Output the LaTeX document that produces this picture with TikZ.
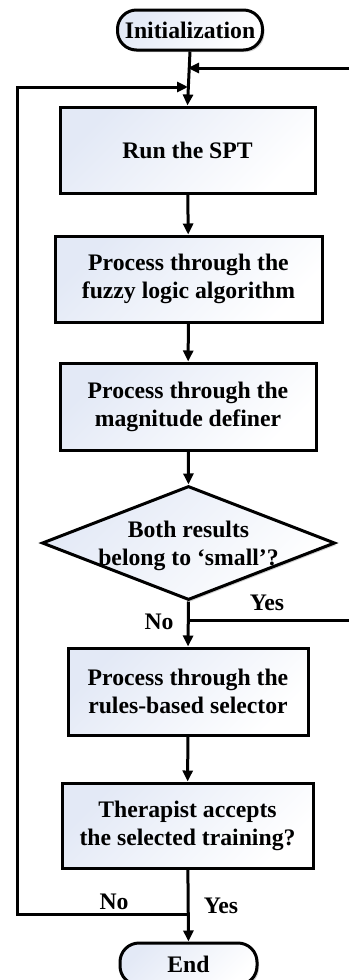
\documentclass[tikz,border=0pt]{standalone}
\usepackage{fontspec}
\setmainfont{Liberation Serif}
\usetikzlibrary{shapes.geometric,arrows.meta,shadows}
\definecolor{lb}{HTML}{E3E9F6}
\begin{document}
\begin{tikzpicture}[x=1pt,y=-1pt,
  every node/.style={font=\bfseries\fontsize{23.7}{28}\selectfont},
  fillbox/.style={draw=black, line width=3pt, top color=lb, bottom color=white, shading angle=45,
     drop shadow={shadow xshift=2pt, shadow yshift=-2pt, fill=black, opacity=0.18}},
  procbox/.style={fillbox, rectangle, align=center, inner sep=0pt},
  termbox/.style={fillbox, rectangle, rounded corners=19pt, inner sep=0pt},
  conn/.style={line width=3pt},
  arr/.style={conn, -{Triangle[length=11pt,width=10pt]}},
  lab/.style={inner sep=0pt}]
\useasboundingbox (0,0) rectangle (349,980);

\node[termbox, minimum width=145pt, minimum height=40pt] (init) at (190,30) {Initialization};
\node[procbox, minimum width=255pt, minimum height=86pt] (b1) at (187.5,150) {Run the SPT};
\node[procbox, minimum width=267pt, minimum height=86pt] (b2) at (188.5,279) {Process through the\\fuzzy logic algorithm};
\node[procbox, minimum width=256pt, minimum height=87pt] (b3) at (188,406.5) {Process through the\\magnitude definer};
\node[fillbox, diamond, minimum width=293pt, minimum height=114pt, inner sep=0pt] (dia) at (188.5,543) {};
\node[align=center, inner sep=0pt] (diat) at (188.5,546) {Both results\\belong to ‘small’?};
\node[procbox, minimum width=240pt, minimum height=87pt] (b4) at (188,691.5) {Process through the\\rules-based selector};
\node[procbox, minimum width=251pt, minimum height=85pt] (b5) at (187.5,825.5) {Therapist accepts\\the selected training?};
\node[termbox, minimum width=137pt, minimum height=42pt] (end) at (188.5,964) {End};

\coordinate (j1) at (188,68);
\coordinate (rin) at (349,68);
\coordinate (j2) at (188,87);
\coordinate (lt) at (17,87);
\coordinate (lb2) at (17,914);
\coordinate (j4) at (188,914);
\coordinate (j3) at (188,620);
\coordinate (rout) at (349,620);

\draw[arr] (init.south) -- (b1.north);
\draw[arr] (rin) -- (j1);
\draw[arr] (j4) -- (lb2) -- (lt) -- (j2);
\draw[arr] (b1) -- (b2);
\draw[arr] (b2) -- (b3);
\draw[arr] (b3) -- (dia.north);
\draw[arr] (dia.south) -- (b4.north);
\draw[conn] (j3) -- (rout);
\draw[arr] (b4) -- (b5);
\draw[arr] (b5) -- (end.north);

\node[lab] (yes1) at (267,603) {Yes};
\node[lab] (no1) at (159,622) {No};
\node[lab] (no2) at (114,902) {No};
\node[lab] (yes2) at (221,906) {Yes};
\end{tikzpicture}
\end{document}
